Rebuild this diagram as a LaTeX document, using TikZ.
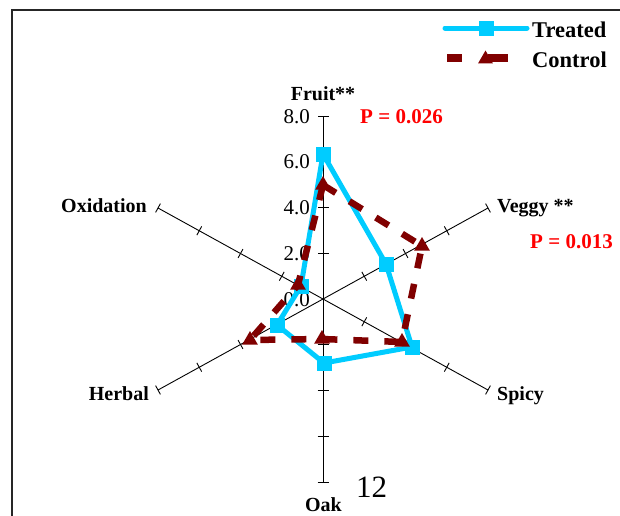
\documentclass[tikz,border=0pt]{standalone}
\usepackage{fontspec}
\setmainfont{Liberation Serif}
\usetikzlibrary{shapes.geometric,calc}
\definecolor{treat}{HTML}{00CCFF}
\definecolor{ctrl}{HTML}{800000}
\definecolor{pred}{HTML}{FF0000}
\tikzset{
  axisline/.style={draw=black, line width=0.9pt},
  tickline/.style={draw=black, line width=0.9pt},
  axlabel/.style={font=\bfseries\fontsize{20}{24}\selectfont, inner sep=0pt},
  ticklabel/.style={font=\fontsize{21}{24}\selectfont, inner sep=0pt, anchor=base east},
  plabel/.style={font=\bfseries\fontsize{21}{24}\selectfont, text=pred, inner sep=0pt, anchor=base west},
  legtext/.style={font=\bfseries\fontsize{22.5}{26}\selectfont, inner sep=0pt, anchor=base west},
  treatline/.style={draw=treat, line width=5pt, line join=miter},
  ctrlline/.style={draw=ctrl, line width=6.5pt, dash pattern=on 15pt off 16pt},
  sqmark/.style={rectangle, fill=treat, minimum size=15pt, inner sep=0pt},
  trimark/.style={regular polygon, regular polygon sides=3, fill=ctrl, minimum size=18pt, inner sep=0pt},
  framebox/.style={draw=black!85, line width=1.5pt}
}
\begin{document}
\begin{tikzpicture}[x=1pt,y=-1pt]
\useasboundingbox (0,0) rectangle (620,515);
\clip (0,0) rectangle (620,515);
\draw[framebox] (12,10) rectangle (640,540);

% axes
\coordinate (O) at (323,299);
\coordinate (Fr) at (323,116);
\coordinate (Ve) at (488,208);
\coordinate (Sp) at (488,390);
\coordinate (Oa) at (323,482);
\coordinate (He) at (158,390);
\coordinate (Ox) at (158,208);
\foreach \e in {Fr,Ve,Sp,Oa,He,Ox}{
  \draw[axisline] (O) -- (\e);
}
\foreach \e in {Ve,Sp,He,Ox}{
  \foreach \f in {0.25,0.5,0.75,1}{
    \draw[tickline] ($(O)!\f!(\e)!5pt!90:(O)$) -- ($(O)!\f!(\e)!5pt!-90:(O)$);
  }
}
\foreach \e in {Fr,Oa}{
  \foreach \f in {0.25,0.5,0.75,1}{
    \draw[tickline] ($(O)!\f!(\e)!5.5pt!90:(O)$) -- ($(O)!\f!(\e)!5.5pt!-90:(O)$);
  }
}

% tick labels
\node[ticklabel] (l8) at (310,123) {8.0};
\node[ticklabel] (l6) at (310,168.5) {6.0};
\node[ticklabel] (l4) at (310,214) {4.0};
\node[ticklabel] (l2) at (310,260) {2.0};
\node[ticklabel] (l0) at (310,306) {0.0};

% treated
\coordinate (T1) at (323,154);
\coordinate (T2) at (386,264);
\coordinate (T3) at (412,347);
\coordinate (T4) at (324,363);
\coordinate (T5) at (277,325);
\coordinate (T6) at (301,286);
\draw[treatline] (T1) -- (T2) -- (T3) -- (T4) -- (T5) -- (T6) -- cycle;
\foreach \p in {T1,T2,T3,T4,T5,T6}{
  \node[sqmark] (m\p) at (\p) {};
}

% control
\coordinate (C1) at (323,185);
\coordinate (C2) at (422,246);
\coordinate (C3) at (402,342);
\coordinate (C4) at (322,339);
\coordinate (C5) at (250,340);
\coordinate (C6) at (298,285);
\draw[ctrlline] (C1) -- (C2) -- (C3) -- (C4) -- (C5) -- (C6) -- cycle;
\foreach \p in {C1,C2,C3,C4,C5,C6}{
  \node[trimark] (m\p) at (\p) {};
}

% axis labels
\node[axlabel, anchor=base] (fruit) at (323,100) {Fruit**};
\node[axlabel, anchor=base west] (veggy) at (497,212) {Veggy **};
\node[axlabel, anchor=base west] (spicy) at (497,400) {Spicy};
\node[axlabel, anchor=base] (oak) at (323.5,511) {Oak};
\node[axlabel, anchor=base east] (herbal) at (149,400) {Herbal};
\node[axlabel, anchor=base east] (oxid) at (147,212) {Oxidation};
\node[plabel] (p1) at (360,123) {P = 0.026};
\node[plabel] (p2) at (530,248) {P = 0.013};
\node[font=\fontsize{31}{34}\selectfont, inner sep=0pt, anchor=base west] (num) at (356,497) {12};

% legend
\coordinate (L1a) at (445,28);
\coordinate (L1b) at (527,28);
\draw[draw=treat, line width=5pt, line cap=round] (L1a) -- (L1b);
\node[sqmark] (lsq) at (486,28) {};
\node[legtext] (lt) at (532,37) {Treated};
\fill[ctrl] (447,54.3) rectangle (461.5,62.3);
\fill[ctrl] (488,54.3) rectangle (507.5,62.3);
\node[trimark, minimum size=17pt] (ltri) at (485.5,59) {};
\node[legtext] (lc) at (532,67.5) {Control};
\end{tikzpicture}
\end{document}
